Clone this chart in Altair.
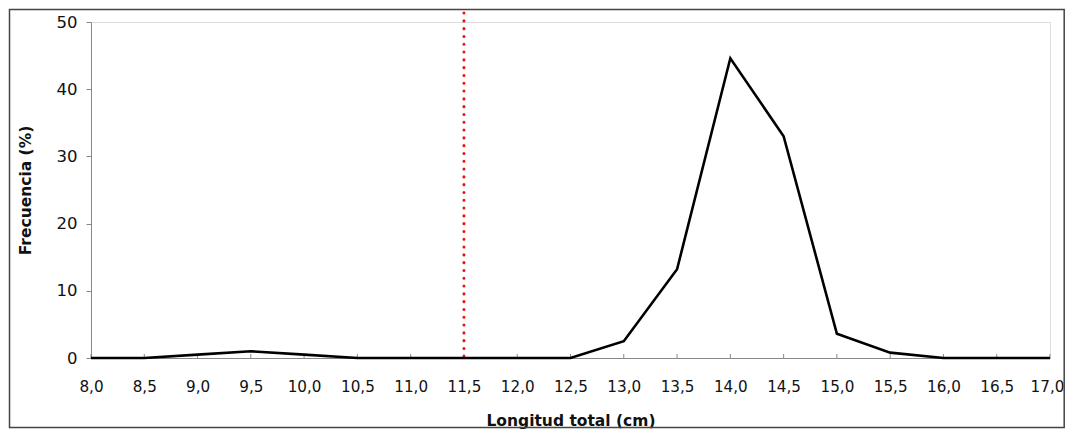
import altair as alt
import pandas as pd

longitud = [8.0, 8.5, 9.0, 9.5, 10.0, 10.5, 11.0, 11.5, 12.0, 12.5, 13.0, 13.5, 14.0, 14.5, 15.0, 15.5, 16.0, 16.5, 17.0]
frecuencia = [0, 0, 0.5, 1.0, 0.5, 0, 0, 0, 0, 0, 2.5, 13.2, 44.6, 33.0, 3.6, 0.8, 0, 0, 0]
x_ticks = [8.0, 8.5, 9.0, 9.5, 10.0, 10.5, 11.0, 11.5, 12.0, 12.5, 13.0, 13.5, 14.0, 14.5, 15.0, 15.5, 16.0, 16.5, 17.0]
ref_x = [11.5]

df = pd.DataFrame({"x": longitud, "y": frecuencia})
ticks_df = pd.DataFrame({"x": x_ticks})
ref_df = pd.DataFrame({"x": ref_x})

W, H = 959, 336
FONT = "DejaVu Sans"

xscale = alt.Scale(domain=[8, 17], nice=False, zero=False)
yscale = alt.Scale(domain=[0, 50], nice=False)

line = alt.Chart(df).mark_line(color="black", strokeWidth=2.6, clip=False).encode(
    x=alt.X("x:Q", scale=xscale,
            axis=alt.Axis(values=x_ticks, labelExpr="replace(format(datum.value, '.1f'), '.', ',')",
                          title="Longitud total (cm)", tickSize=0, labelPadding=21,
                          labelOverlap=False, labelFlush=False, labelBound=False,
                          labelOffset={"condition": {"test": "datum.value >= 17", "value": -3}, "value": 0},
                          domainColor="#888888", labelFont=FONT, labelFontSize=15.2,
                          labelColor="#111111", grid=False,
                          titleFont=FONT, titleFontSize=15.5, titleFontWeight="bold",
                          titleColor="#111111", titleY=62, titleBaseline="middle")),
    y=alt.Y("y:Q", scale=yscale,
            axis=alt.Axis(values=[0, 10, 20, 30, 40, 50], title="Frecuencia (%)",
                          tickSize=5, tickColor="#888888", domainColor="#888888",
                          labelPadding=9, labelFont=FONT, labelFontSize=16.5,
                          labelOverlap=False, labelFlush=False,
                          labelColor="#111111", grid=False,
                          titleFont=FONT, titleFontSize=15.5, titleFontWeight="bold",
                          titleColor="#111111", titleX=-66, titleBaseline="middle")),
)

xticks = alt.Chart(ticks_df).mark_rule(color="#888888", strokeWidth=1).encode(
    x=alt.X("x:Q", scale=xscale),
    y=alt.value(H - 4),
    y2=alt.value(H),
)

ref = alt.Chart(ref_df).mark_rule(color="#ee1111", strokeWidth=3, strokeDash=[0.1, 7.7],
                                  strokeCap="round").encode(
    x=alt.X("x:Q", scale=xscale),
    y=alt.value(-9),
    y2=alt.value(H),
)

border = alt.Chart(ref_df).mark_rect(fill=None, stroke="#444444", strokeWidth=1.5).encode(
    x=alt.value(-81.5),
    x2=alt.value(W + 14.2),
    y=alt.value(-12.5),
    y2=alt.value(H + 69.5),
)

chart = alt.layer(xticks, ref, line, border).properties(
    width=W, height=H,
    autosize=alt.AutoSizeParams(type="none"),
    padding={"left": 83, "top": 14, "right": 15, "bottom": 71},
).configure_view(stroke="transparent", strokeWidth=0, strokeOpacity=0).configure(background="white")

chart.save("out.html", embed_options={"renderer": "svg", "actions": False})
